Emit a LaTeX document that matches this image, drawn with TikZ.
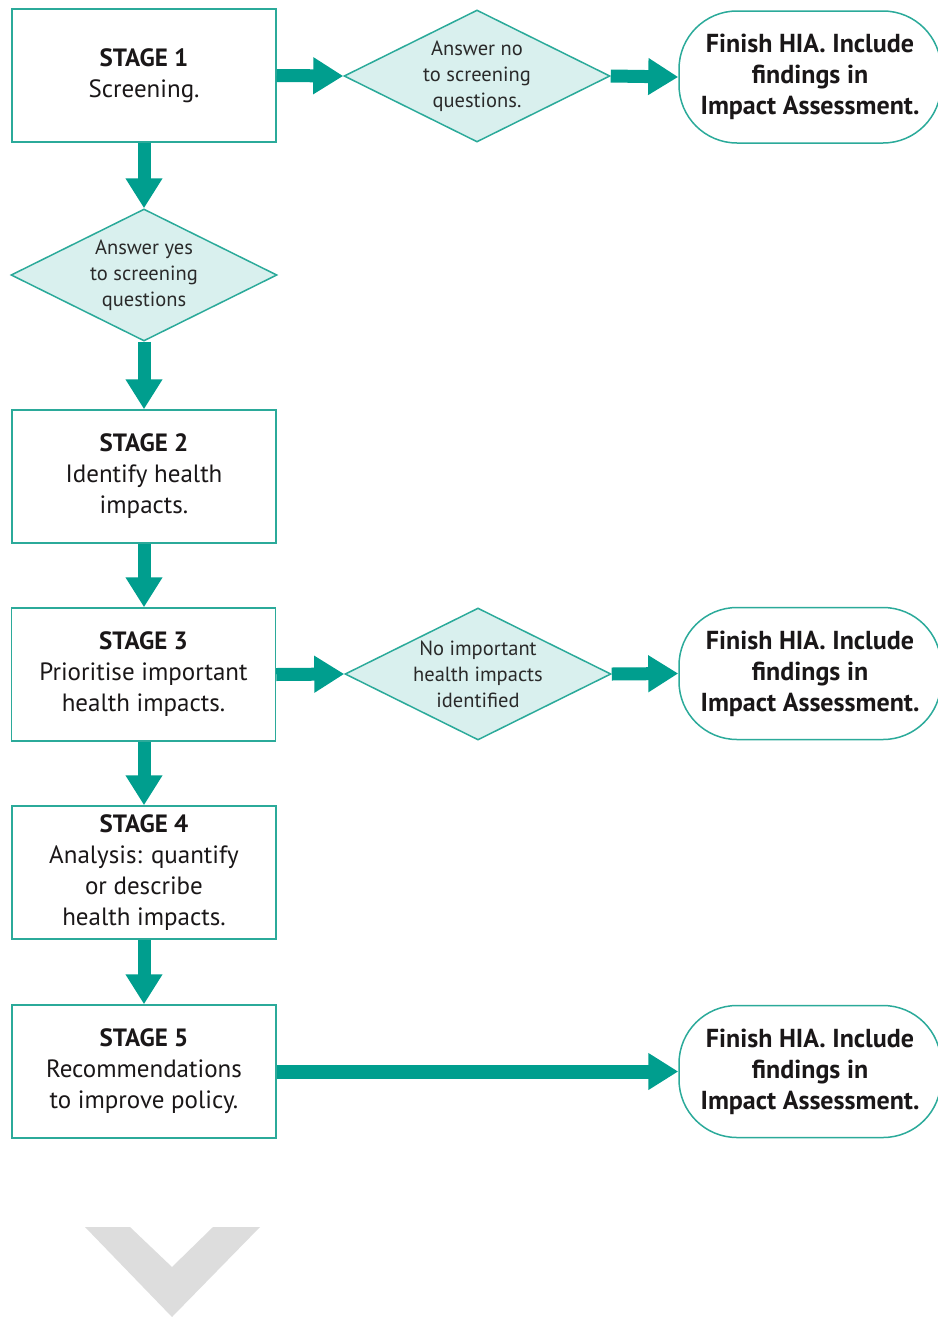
\documentclass[tikz,border=0pt]{standalone}
\usepackage{fontspec}
\setmainfont{PT Sans}
\usetikzlibrary{shapes.geometric,arrows.meta}
\definecolor{teal1}{HTML}{009E8E}
\definecolor{edge1}{HTML}{2BAA9A}
\definecolor{dfill}{HTML}{D9F0EE}
\definecolor{txt}{HTML}{1A1718}
\definecolor{dtxt}{HTML}{2A2A2A}
\definecolor{chev}{HTML}{DDDDDD}
\begin{document}
\begin{tikzpicture}[x=1pt,y=-1pt,
  stagebox/.style={draw=edge1, line width=1.5pt, fill=white, minimum width=264pt, minimum height=133pt, inner sep=0pt, align=center, text=txt, font=\fontsize{25}{31}\selectfont},
  decision/.style={diamond, aspect=2, draw=edge1, line width=1.5pt, fill=dfill, minimum width=266pt, minimum height=132pt, inner sep=-22pt, align=center, text=dtxt, font=\fontsize{20.5}{26}\selectfont},
  terminal/.style={draw=edge1, line width=1.5pt, fill=white, rounded corners=58pt, minimum width=262pt, minimum height=132pt, inner sep=0pt, align=center, text=txt, font=\bfseries\fontsize{26}{31}\selectfont},
  flow/.style={draw=teal1, line width=13pt, -{Triangle[width=35pt,length=30pt]}}
]
\useasboundingbox (0,0) rectangle (937,1317);
\node[stagebox] (s1) at (144,75.5) {\textbf{STAGE 1}\\Screening.};
\node[decision] (dyes) at (144,275) {Answer yes\\to screening\\questions};
\node[stagebox] (s2) at (144,476.5) {\textbf{STAGE 2}\\Identify health\\impacts.};
\node[stagebox] (s3) at (143.5,674.5) {\textbf{STAGE 3}\\Prioritise important\\health impacts.};
\node[stagebox] (s4) at (144,872.5) {\textbf{STAGE 4}\\Analysis: quantify\\or describe\\health impacts.};
\node[stagebox] (s5) at (144,1071.5) {\textbf{STAGE 5}\\Recommendations\\to improve policy.};
\node[decision] (dno) at (477,76) {Answer no\\to screening\\questions.};
\node[decision] (dnone) at (478,674) {No important\\health impacts\\identified};
\node[terminal] (t1) at (810,77) {Finish HIA. Include\\findings in\\Impact Assessment.};
\node[terminal] (t2) at (810,673.5) {Finish HIA. Include\\findings in\\Impact Assessment.};
\node[terminal] (t3) at (810,1071.5) {Finish HIA. Include\\findings in\\Impact Assessment.};
\draw[flow] (s1.east) -- (dno.west);
\draw[flow] (dno.east) -- (t1.west);
\draw[flow] (s1.south) -- (dyes.north);
\draw[flow] (dyes.south) -- (s2.north);
\draw[flow] (s2.south) -- (s3.north -| s2.south);
\draw[flow] (s3.east) -- (dnone.west);
\draw[flow] (dnone.east) -- (t2.west);
\draw[flow] (s3.south -| s2.south) -- (s4.north);
\draw[flow] (s4.south) -- (s5.north);
\draw[flow, line width=14pt] (s5.east) -- (t3.west);
\fill[chev] (85,1227) -- (130,1227) -- (172,1267) -- (213,1227) -- (260,1227) -- (172,1317) -- cycle;
\end{tikzpicture}
\end{document}
